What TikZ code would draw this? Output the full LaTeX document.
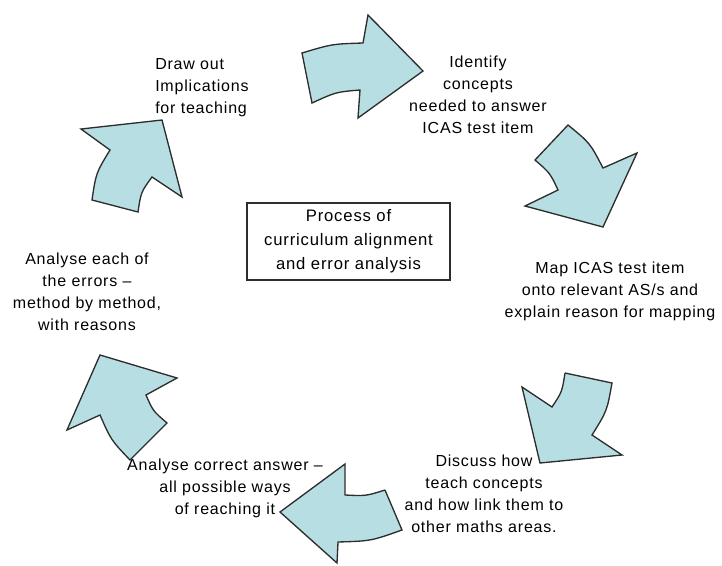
\documentclass[tikz,border=0pt]{standalone}
\usepackage{fontspec}
\setmainfont{Liberation Sans}[LetterSpace=5]
\definecolor{arrowfill}{RGB}{183,223,227}
\definecolor{edgegray}{RGB}{45,45,45}
\begin{document}
\begin{tikzpicture}[x=0.75pt,y=-0.75pt,
  blockarrow/.style={fill=arrowfill,draw=edgegray,line width=1pt,line join=miter},
  label/.style={align=center,inner sep=0pt,font=\fontsize{12}{16.5}\selectfont},
  titlebox/.style={draw=edgegray,line width=1pt,minimum width=203*0.75pt,minimum height=77*0.75pt,align=center,font=\fontsize{12.5}{18}\selectfont}]
\useasboundingbox (0,0) rectangle (722,565);
% top arrow (pointing right)
\draw[blockarrow] (302,53) .. controls (332,44) .. (363,43) -- (368,15) -- (423,71) -- (358,118) -- (360,90) .. controls (336,92) .. (312,103) -- cycle;
% right arrow (pointing down-right)
\draw[blockarrow] (568,125) .. controls (590,143) .. (603,168) -- (637,153) -- (603,227) -- (525,206) -- (558,190) .. controls (550,173) .. (535,160) -- cycle;
% bottom-right arrow (pointing down-left)
\draw[blockarrow] (565,373) -- (612,383) .. controls (607,411) .. (592,435) -- (622,455) -- (540,463) -- (522,387) -- (552,407) .. controls (562,392) .. (565,373);
% bottom arrow (pointing left)
\draw[blockarrow] (385,490) -- (402,530) .. controls (371,541) .. (338,542) -- (337,563) -- (280,512) -- (345,464) -- (345,495) .. controls (366,496) .. (385,490);
% lower-left arrow (pointing up)
\draw[blockarrow] (100,355) -- (177,378) -- (146,395) .. controls (153,411) .. (167,423) -- (130,460) .. controls (111,440) .. (100,415) -- (67,430) -- cycle;
% upper-left arrow (pointing up-right)
\draw[blockarrow] (81,129) -- (162,120) -- (182,197) -- (152,177) .. controls (141,192) .. (138,212) -- (92,200) .. controls (96,173) .. (110,150) -- cycle;
% centre box
\node[titlebox] (centre) at (348.5,241.5) {Process of\\curriculum alignment\\and error analysis};
% step labels
\node[label,anchor=west,align=left] (implications) at (155,88) {Draw out\\Implications\\for teaching};
\node[label] (identify) at (478,95) {Identify\\concepts\\needed to answer\\ICAS test item};
\node[label] (mapitem) at (610,291) {Map ICAS test item\\onto relevant AS/s and\\explain reason for mapping};
\node[label] (discuss) at (484,494) {Discuss how\\teach concepts\\and how link them to\\other maths areas.};
\node[label] (correct) at (225,488) {Analyse correct answer --\\all possible ways\\of reaching it};
\node[label] (errors) at (87,292) {Analyse each of\\the errors --\\method by method,\\with reasons};
\end{tikzpicture}
\end{document}
